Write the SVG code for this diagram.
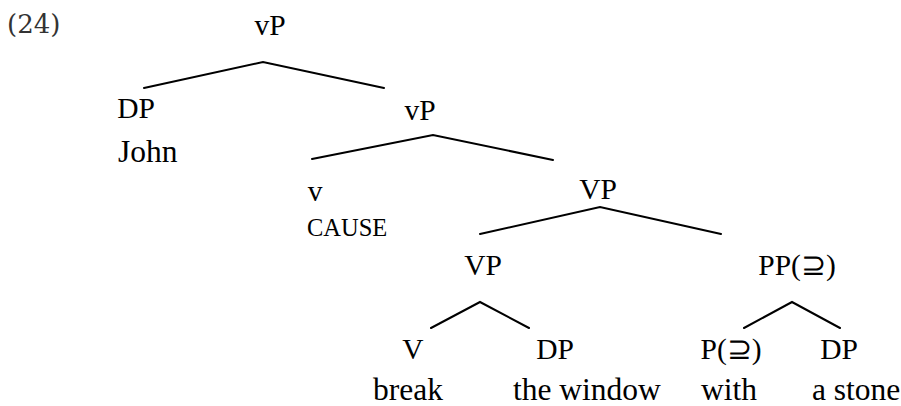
<svg xmlns="http://www.w3.org/2000/svg" width="901" height="406" viewBox="0 0 901 406">
<style>
text{font-family:'Liberation Serif',Tinos,'Times New Roman',Times,serif;fill:#000}
.lbl{font-size:29.5px;text-anchor:middle}
.wd{font-size:31.5px}
.sc{font-size:24.5px}
.num{font-family:'DejaVu Serif',serif;font-size:26px;fill:#333}
.edge{stroke:#000;stroke-width:2;fill:none;stroke-linecap:round}
</style>
<rect width="901" height="406" fill="#fff"/>
<text class="num" x="7" y="33">(24)</text>
<g id="connectors">
<path class="edge" d="M144,88 L263,62 L384,88"/>
<path class="edge" d="M312,159 L433,135 L553,160"/>
<path class="edge" d="M480,234 L600,207 L721,234"/>
<path class="edge" d="M431,328 L480,302 L529,328"/>
<path class="edge" d="M744,328 L792,302 L840,328"/>
</g>
<g id="n-vP-root"><text class="lbl" x="270" y="35">vP</text></g>
<g id="n-DP-john"><text class="lbl" x="136" y="118">DP</text><text class="wd" x="118" y="162">John</text></g>
<g id="n-vP"><text class="lbl" x="420" y="120">vP</text></g>
<g id="n-v"><text class="lbl" x="315" y="201">v</text><text class="sc" x="307" y="236">CAUSE</text></g>
<g id="n-VP-top"><text class="lbl" x="598" y="199">VP</text></g>
<g id="n-VP"><text class="lbl" x="483" y="275">VP</text></g>
<g id="n-PP"><text class="lbl" x="797" y="275">PP(⊇)</text></g>
<g id="n-V"><text class="lbl" x="413" y="359">V</text><text class="wd" x="373" y="400">break</text></g>
<g id="n-DP-window"><text class="lbl" x="555" y="359">DP</text><text class="wd" x="513" y="400">the window</text></g>
<g id="n-P"><text class="lbl" x="731" y="359">P(⊇)</text><text class="wd" x="701" y="400">with</text></g>
<g id="n-DP-stone"><text class="lbl" x="839" y="359">DP</text><text class="wd" x="812" y="400">a stone</text></g>
</svg>
